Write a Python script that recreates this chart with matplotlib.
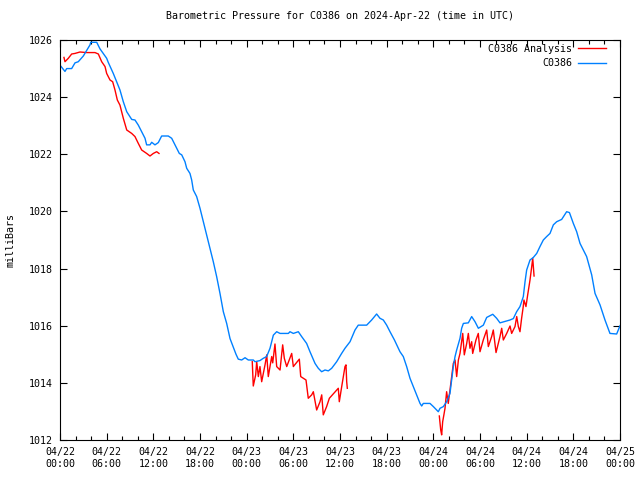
import pandas as pd
import numpy as np
import matplotlib
matplotlib.use("Agg")
import matplotlib.pyplot as plt
import matplotlib.dates as mdates

# hours after 2024-04-22 00:00 UTC, pressure in mbar
station_hours = [
    0, 0.64, 0.86, 1.5, 1.93, 2.35, 3.0, 3.86, 3.95, 4.72, 5.14, 6.0, 6.2,
    6.85, 7.71, 8.14, 8.58, 9.22, 9.64, 10.07, 10.5, 10.93, 11.14, 11.57,
    11.79, 12.21, 12.64, 13.07, 13.92, 14.36, 14.79, 15.34, 15.65, 16.07,
    16.29, 16.71, 16.93, 17.14, 17.57, 18.0, 18.43, 18.86, 19.29, 19.71,
    20.14, 20.57, 21.0, 21.43, 21.86, 22.29, 22.63, 22.92, 23.36, 23.79,
    24.21, 24.86, 25.07, 25.71, 26.14, 26.57, 27.0, 27.43, 27.86, 28.29,
    29.36, 29.57, 30.0, 30.64, 31.07, 31.71, 32.14, 32.79, 33.21, 33.64,
    34.07, 34.5, 34.93, 35.57, 36.21, 36.64, 37.29, 37.93, 38.35, 39.43,
    40.07, 40.71, 41.14, 41.57, 42.0, 42.43, 43.0, 43.71, 44.14, 44.57,
    45.0, 45.43, 45.86, 46.29, 46.5, 46.71, 47.57, 48.0, 48.43, 48.64,
    48.86, 49.29, 49.71, 50.14, 50.36, 50.57, 50.79, 51.0, 51.43, 51.64,
    51.86, 52.5, 52.93, 53.36, 53.79, 54.43, 54.86, 55.64, 56.14, 56.57,
    57.86, 58.29, 58.71, 59.14, 59.57, 59.79, 60.0, 60.43, 60.86, 61.29,
    61.71, 62.14, 62.57, 63.0, 63.43, 63.86, 64.5, 65.14, 65.5, 66.0,
    66.43, 66.86, 67.29, 67.71, 68.36, 68.79, 69.43, 70.07, 70.71, 71.57,
    72.0,
]
station_mbar = [
    1025.12, 1024.9, 1025.0, 1025.0, 1025.2, 1025.24, 1025.44, 1025.83,
    1025.92, 1025.92, 1025.69, 1025.36, 1025.22, 1024.83, 1024.25, 1023.84,
    1023.49, 1023.22, 1023.2, 1023.02, 1022.79, 1022.56, 1022.33, 1022.33,
    1022.42, 1022.33, 1022.41, 1022.64, 1022.64, 1022.56, 1022.33, 1022.03,
    1021.98, 1021.74, 1021.51, 1021.33, 1021.1, 1020.75, 1020.52, 1020.11,
    1019.64, 1019.18, 1018.71, 1018.24, 1017.72, 1017.13, 1016.49, 1016.08,
    1015.55, 1015.24, 1015.0, 1014.83, 1014.8, 1014.88, 1014.8, 1014.8,
    1014.74, 1014.78, 1014.86, 1014.92, 1015.21, 1015.67, 1015.79, 1015.73,
    1015.73, 1015.79, 1015.73, 1015.79, 1015.62, 1015.38, 1015.09, 1014.68,
    1014.51, 1014.39, 1014.45, 1014.42, 1014.51, 1014.74, 1015.03, 1015.21,
    1015.44, 1015.85, 1016.02, 1016.02, 1016.2, 1016.41, 1016.26, 1016.2,
    1016.02, 1015.79, 1015.5, 1015.09, 1014.92, 1014.57, 1014.16, 1013.87,
    1013.58, 1013.28, 1013.19, 1013.28, 1013.28, 1013.17, 1013.05, 1012.99,
    1013.11, 1013.17, 1013.34, 1013.63, 1014.1, 1014.57, 1014.92, 1015.15,
    1015.56, 1015.91, 1016.08, 1016.1, 1016.32, 1016.14, 1015.91, 1016.02,
    1016.29, 1016.4, 1016.26, 1016.1, 1016.2, 1016.25, 1016.49, 1016.67,
    1017.02, 1017.54, 1017.95, 1018.3, 1018.39, 1018.53, 1018.77, 1019.0,
    1019.12, 1019.23, 1019.53, 1019.64, 1019.72, 1019.99, 1019.96, 1019.58,
    1019.29, 1018.88, 1018.65, 1018.42, 1017.78, 1017.13, 1016.73, 1016.2,
    1015.73, 1015.71, 1016.0,
]

# analysis series, NaN marks the gaps between runs
analysis_hours = [
    0.51, 0.64, 1.07, 1.5, 1.93, 2.57, 3.43, 4.5, 4.93, 5.36, 5.79, 6.0,
    6.43, 6.77, 7.07, 7.37, 7.71, 8.14, 8.58, 9.22, 9.64, 10.07, 10.5,
    11.14, 11.57, 12.0, 12.43, 12.73,
    np.nan,
    24.72, 24.85, 25.16, 25.29, 25.5, 25.71, 25.93, 26.36, 26.58, 26.78,
    27.22, 27.35, 27.64, 27.86, 28.29, 28.63, 28.84, 29.15, 29.79, 30.0,
    30.77, 30.95, 31.63, 31.92, 32.36, 32.57, 33.0, 33.43, 33.65, 33.85,
    34.28, 34.63, 35.78, 35.91, 36.22, 36.64, 36.77, 36.86, 36.94,
    np.nan,
    48.77, 48.95, 49.07, 49.2, 49.37, 49.5, 49.71, 49.92, 50.14, 50.36,
    50.57, 50.79, 51.0, 51.22, 51.43, 51.78, 51.98, 52.29, 52.5, 52.71,
    52.93, 53.06, 53.48, 53.78, 54.0, 54.42, 54.86, 55.07, 55.5, 55.71,
    56.06, 56.57, 56.79, 57.0, 57.43, 57.86, 58.07, 58.5, 58.72, 58.93,
    59.14, 59.35, 59.56, 59.65, 59.91, 60.13, 60.43, 60.65, 60.78, 60.95,
]
analysis_mbar = [
    1025.39, 1025.24, 1025.36, 1025.51, 1025.53, 1025.58, 1025.56, 1025.56,
    1025.51, 1025.24, 1025.07, 1024.83, 1024.6, 1024.54, 1024.25, 1023.9,
    1023.72, 1023.26, 1022.85, 1022.73, 1022.62, 1022.38, 1022.15, 1022.03,
    1021.94, 1022.03, 1022.09, 1022.03,
    np.nan,
    1014.74, 1013.89, 1014.28, 1014.74, 1014.22, 1014.57, 1014.04, 1014.63,
    1014.98, 1014.22, 1014.92, 1014.7, 1015.36, 1014.57, 1014.45, 1015.33,
    1014.86, 1014.57, 1015.03, 1014.57, 1014.83, 1014.22, 1014.1, 1013.46,
    1013.58, 1013.69, 1013.05, 1013.34, 1013.58, 1012.88, 1013.17, 1013.46,
    1013.81, 1013.34, 1013.87, 1014.57, 1014.63, 1014.04, 1013.81,
    np.nan,
    1012.84, 1012.35, 1012.18, 1012.64, 1012.9, 1013.11, 1013.69, 1013.28,
    1013.75, 1014.22, 1014.68, 1014.8, 1014.22, 1014.8, 1015.03, 1015.73,
    1014.98, 1015.38, 1015.73, 1015.21, 1015.44, 1015.03, 1015.5, 1015.73,
    1015.09, 1015.5, 1015.85, 1015.27, 1015.62, 1015.85, 1015.06, 1015.62,
    1015.91, 1015.5, 1015.73, 1015.99, 1015.73, 1015.97, 1016.32, 1015.97,
    1015.79, 1016.26, 1016.67, 1016.9, 1016.67, 1017.08, 1017.6, 1018.07,
    1018.36, 1017.74,
]

start = pd.Timestamp("2024-04-22 00:00")


def to_times(hours):
    """Turn hour offsets into timestamps, keeping NaN as NaT."""
    return pd.to_datetime(start) + pd.to_timedelta(hours, unit="h")


def main():
    plt.rcParams["font.family"] = ["DejaVu Sans Mono"]
    fs = 7.2

    fig = plt.figure(figsize=(6.4, 4.8), dpi=100)
    ax = fig.add_axes([60 / 640, 40 / 480, 560 / 640, 400 / 480])

    ax.plot(to_times(analysis_hours), analysis_mbar, color="#ff0000",
            lw=1, label="C0386 Analysis")
    ax.plot(to_times(station_hours), station_mbar, color="#0080ff",
            lw=1, label="C0386")

    ax.set_xlim(start, start + pd.Timedelta(hours=72))
    ax.set_ylim(1012, 1026)
    ax.set_yticks(np.arange(1012, 1027, 2))
    ax.xaxis.set_major_locator(mdates.HourLocator(byhour=range(0, 24, 6)))
    ax.xaxis.set_minor_locator(mdates.HourLocator(byhour=range(0, 24, 2)))
    ax.xaxis.set_major_formatter(mdates.DateFormatter("%m/%d\n%H:%M"))
    ax.tick_params(which="both", direction="in", top=True, right=True,
                   labelsize=fs, colors="black")
    ax.tick_params(which="major", length=5, width=0.8, pad=5)
    ax.tick_params(which="minor", length=3, width=0.8)
    for s in ax.spines.values():
        s.set_linewidth(0.8)

    ax.set_ylabel("milliBars", fontsize=fs, labelpad=10)
    ax.set_title("Barometric Pressure for C0386 on 2024-Apr-22 (time in UTC)",
                 fontsize=fs, pad=15)

    ax.legend(loc="upper right", frameon=False, markerfirst=False,
              handlelength=2.8, handletextpad=0.6, labelspacing=0.45,
              borderaxespad=0.0, bbox_to_anchor=(0.983, 1.0),
              fontsize=fs)

    fig.savefig("out.png", dpi=100)


if __name__ == "__main__":
    main()
